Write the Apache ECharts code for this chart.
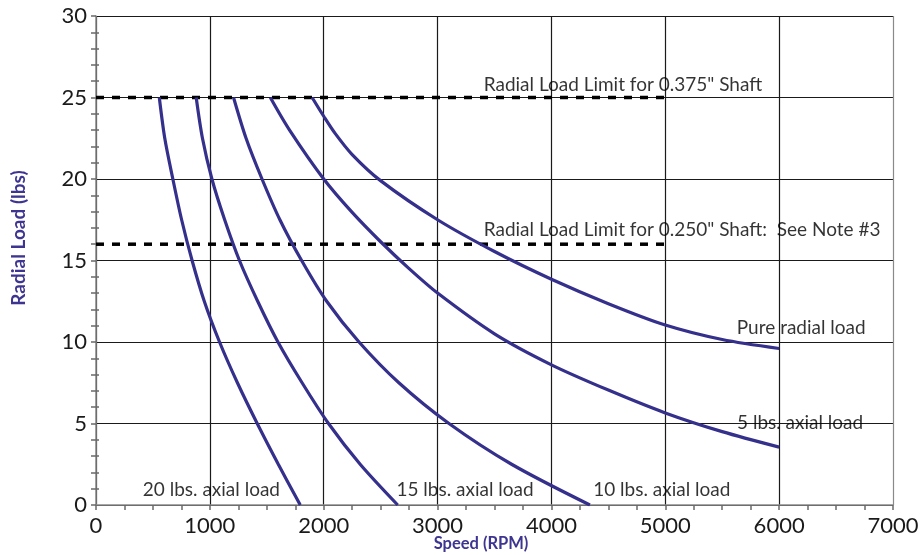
<!DOCTYPE html>
<html>
<head>
<meta charset="utf-8">
<script src="https://cdn.jsdelivr.net/npm/echarts@6/dist/echarts.min.js"></script>
<style>
  html, body { margin: 0; padding: 0; background: #fff; }
  #chart { width: 923px; height: 555px; }
</style>
</head>
<body>
<div id="chart"></div>
<script>
// Radial load capacity vs. speed for several axial loads
const speedTicks = [0, 1000, 2000, 3000, 4000, 5000, 6000, 7000];
const loadTicks = [0, 5, 10, 15, 20, 25, 30];

const seriesNames = ['20 lbs. axial load', '15 lbs. axial load', '10 lbs. axial load', '5 lbs. axial load', 'Pure radial load'];

// [speed (RPM), radial load (lbs)]
const axial20 = [[556, 25], [604, 22.5], [675, 20], [752, 17.5], [844, 15], [951, 12.5], [1085, 10], [1242, 7.5], [1416, 5], [1601, 2.5], [1794, 0]];
const axial15 = [[880, 25], [935, 22.5], [1018, 20], [1130, 17.5], [1260, 15], [1420, 12.5], [1598, 10], [1810, 7.5], [2042, 5], [2320, 2.5], [2650, 0]];
const axial10 = [[1208, 25], [1318, 22.5], [1458, 20], [1615, 17.5], [1806, 15], [2026, 12.5], [2310, 10], [2660, 7.5], [3100, 5], [3650, 2.5], [4338, 0]];
const axial5 = [[1531, 25], [1700, 23], [2000, 20], [2250, 17.95], [2500, 16.15], [2750, 14.5], [3000, 13.0], [3500, 10.5], [4000, 8.6], [4500, 7.05], [5000, 5.65], [5500, 4.5], [6000, 3.55]];
const pureRadial = [[1898, 25], [2000, 23.85], [2100, 22.8], [2250, 21.5], [2499, 19.9], [3000, 17.5], [3500, 15.55], [4000, 13.85], [4500, 12.35], [5000, 11.04], [5500, 10.15], [6000, 9.6]];

// Shaft radial load limits (lbs), drawn from 0 to limitEnd RPM
const shaftLimits = [25, 16];
const limitEnd = 5000;
const limitTexts = ['Radial Load Limit for 0.375" Shaft', 'Radial Load Limit for 0.250" Shaft:  See Note #3'];

const curves = [axial20, axial15, axial10, axial5, pureRadial];

// text anchors (left edge, vertical middle) in data coordinates
const notes = [
  { text: limitTexts[0], at: [3405, 25.8] },
  { text: limitTexts[1], at: [3405, 16.85] },
  { text: seriesNames[4], at: [5628, 10.86] },
  { text: seriesNames[3], at: [5630, 5.04] },
  { text: seriesNames[0], at: [411, 0.94] },
  { text: seriesNames[1], at: [2639, 0.94] },
  { text: seriesNames[2], at: [4367, 0.94] }
];

const curveColor = '#35308c';
const titleColor = '#3d3590';
const font = 'Lato';

const chart = echarts.init(document.getElementById('chart'), null, { renderer: 'canvas' });

const grid = { left: 96, right: 30, top: 16, bottom: 50 };

const splitColorsX = speedTicks.map((t, i) => i === speedTicks.length - 1 ? '#8a8a8a' : '#1a1a1a');

const baseX = {
  type: 'value', min: speedTicks[0], max: speedTicks[speedTicks.length - 1], interval: 1000
};
const baseY = {
  type: 'value', min: loadTicks[0], max: loadTicks[loadTicks.length - 1], interval: 5
};

const plain = v => String(v);

const option = {
  backgroundColor: '#fff',
  animation: false,
  grid: grid,
  xAxis: [
    Object.assign({}, baseX, {
      axisLine: { show: true, lineStyle: { color: '#8a8a8a', width: 1.5 } },
      axisTick: { show: true, length: 5, lineStyle: { color: '#6a6a6a', width: 1.5 } },
      minorTick: { show: true, splitNumber: 4, length: 5, lineStyle: { color: '#6a6a6a', width: 1.5 } },
      axisLabel: { show: true, fontFamily: font, fontSize: 22, color: '#1a1a1a', margin: 10, formatter: plain },
      splitLine: { show: true, lineStyle: { color: splitColorsX, width: 1.2 } }
    }),
    Object.assign({}, baseX, {
      axisLine: { show: false },
      axisTick: { show: false, inside: true },
      minorTick: { show: true, splitNumber: 4, length: 3, lineStyle: { color: '#6a6a6a', width: 1.5 } },
      axisLabel: { show: false },
      splitLine: { show: false }
    })
  ],
  yAxis: [
    Object.assign({}, baseY, {
      axisLine: { show: true, lineStyle: { color: '#8a8a8a', width: 1.5 } },
      axisTick: { show: true, length: 5, lineStyle: { color: '#6a6a6a', width: 1.5 } },
      minorTick: { show: true, splitNumber: 5, length: 5, lineStyle: { color: '#6a6a6a', width: 1.5 } },
      axisLabel: { show: true, fontFamily: font, fontSize: 22, color: '#1a1a1a', margin: 9, formatter: plain },
      splitLine: { show: true, lineStyle: { color: '#1a1a1a', width: 1.2 } }
    }),
    Object.assign({}, baseY, {
      position: 'left',
      axisLine: { show: false },
      axisTick: { show: false, inside: true },
      minorTick: { show: true, splitNumber: 5, length: 3, lineStyle: { color: '#6a6a6a', width: 1.5 } },
      axisLabel: { show: false },
      splitLine: { show: false }
    })
  ],
  graphic: [
    {
      type: 'text', x: 19, y: 238, rotation: Math.PI / 2,
      style: { text: 'Radial Load (lbs)', fontFamily: font, fontWeight: 'bold', fontSize: 19, fill: titleColor, align: 'center', verticalAlign: 'middle' }
    },
    {
      type: 'text', x: 481, y: 544,
      style: { text: 'Speed (RPM)', fontFamily: font, fontWeight: 'bold', fontSize: 16.5, fill: titleColor, align: 'center', verticalAlign: 'middle' }
    }
  ],
  series: []
};

// shaft limit lines
shaftLimits.forEach((lim, i) => {
  option.series.push({
    type: 'line', name: 'limit' + i, xAxisIndex: 0, yAxisIndex: 0,
    data: [[0, lim], [limitEnd, lim]],
    symbol: 'none', silent: true, z: 3,
    lineStyle: { color: '#000', width: 3.5, type: [8, 8] }
  });
});

// load curves
curves.forEach((pts, i) => {
  option.series.push({
    type: 'line', name: seriesNames[i], xAxisIndex: 0, yAxisIndex: 0,
    data: pts, symbol: 'none', smooth: 0.3, z: 4,
    lineStyle: { color: curveColor, width: 3.2 }
  });
});

// annotations
option.series.push({
  type: 'scatter', xAxisIndex: 0, yAxisIndex: 0, symbolSize: 0, silent: true, z: 5,
  data: notes.map(n => ({ value: n.at, name: n.text })),
  label: {
    show: true, position: 'right', distance: 0,
    formatter: p => p.name,
    fontFamily: font, fontSize: 19, color: '#000'
  }
});

chart.setOption(option);
</script>
</body>
</html>
